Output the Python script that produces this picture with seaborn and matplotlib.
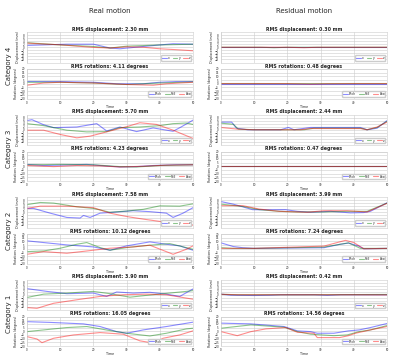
"""
plot.py
Real vs residual motion traces (displacement + rotations) for four categories.
"""

import pandas as pd
import matplotlib.pyplot as plt
import seaborn as sns

# column / row labels
COLUMNS = ["Real motion", "Residual motion"]
CATEGORIES = ["Category 4", "Category 3", "Category 2", "Category 1"]
DISP_LABELS = ["x", "y", "z"]
ROT_LABELS = ["Pitch", "Roll", "Yaw"]
TIME_TICKS = [0, 10, 20, 30, 40, 50]
DISP_TICKS = [-8, -6, -4, -2, 0, 2, 4, 6, 8]
ROT_TICKS = [-20, -15, -10, -5, 0, 5, 10, 15, 20]

# RMS values shown in the titles (rows = categories, cols = real / residual)
RMS_DISP = [[2.30, 0.30], [5.70, 2.44], [7.58, 3.99], [3.90, 0.42]]
RMS_ROT = [[4.11, 0.48], [4.23, 0.47], [10.12, 7.24], [16.05, 14.56]]

# ---- Category 4 ----
real4_disp = {
    "x": ([0, 12, 20, 25, 28, 35, 44, 50], [1.2, 2.0, 2.0, -0.5, -1.0, 0.5, 2.3, 2.0]),
    "y": ([0, 10, 20, 25, 30, 40, 50], [3.0, 1.5, 0.5, -0.5, 0.7, 1.5, 2.0]),
    "z": ([0, 10, 20, 25, 30, 35, 40, 45, 50], [2.7, 1.6, -0.1, -0.5, 0.3, 0.0, -1.0, -1.6, -2.3]),
}
real4_rot = {
    "Pitch": ([0, 10, 20, 27, 35, 40, 45, 50], [3, 3, 2, 0, 0, 2, 3, 3]),
    "Roll": ([0, 10, 20, 30, 40, 50], [2, 2, 1, -1, 1, 2.5]),
    "Yaw": ([0, 5, 10, 20, 30, 38, 42, 50], [-2, 1, 2, 1, -1, -2, 0, 2]),
}
resid4_disp = {
    "x": ([0, 10, 20, 30, 40, 50], [0, 0, 0, 0, 0, 0]),
    "y": ([0, 12, 16, 20, 30, 50], [0, 0, -0.3, 0, 0, 0]),
    "z": ([0, 20, 25, 29, 35, 50], [0, 0, -0.3, 0, 0, 0]),
}
resid4_rot = {
    "Pitch": ([0, 10, 20, 30, 40, 50], [0, 0, 0, 0, 0, 0]),
    "Roll": ([0, 10, 20, 30, 40, 50], [0.3, 0.3, 0.2, 0.2, 0.3, 0.3]),
    "Yaw": ([0, 20, 27, 32, 40, 50], [0.2, 0.2, -0.5, 0, 0.2, 0.2]),
}

# ---- Category 3 ----
real3_disp = {
    "x": ([0, 1.5, 5, 8, 15, 21, 24, 28, 33, 38, 44, 46.4, 50],
          [6.0, 6.6, 3.3, 1.4, 1.8, 4.0, -0.8, 1.8, -1.2, 1.2, -1.0, 1.8, 6.3]),
    "y": ([0, 5, 12, 18, 24, 28, 34, 40, 44, 48, 50],
          [4.0, 2.7, -0.3, -1.4, -1.2, 1.4, 1.8, 2.7, 4.0, 4.4, 3.5]),
    "z": ([0, 5, 10, 15, 19, 24, 30, 34, 39, 44, 50],
          [-0.3, -0.3, -3.1, -5.3, -4.2, -1.4, 2.0, 4.6, 3.5, -0.3, -5.7]),
}
real3_rot = {
    "Pitch": ([0, 5, 10, 18, 22, 28, 33, 38, 45, 50], [2.5, 1, 1.5, 2.5, 1, -1, -0.5, 1, 2, 2]),
    "Roll": ([0, 10, 20, 28, 33, 40, 50], [2, 2.5, 2, -0.5, -1, 1, 2]),
    "Yaw": ([0, 8, 15, 22, 28, 35, 42, 50], [1, -0.5, 1, 0.5, -1, 0, 1.5, 2]),
}
resid3_disp = {
    "x": ([0, 3.2, 4.7, 8, 18, 20.3, 22, 27, 42, 44, 47, 50],
          [5.0, 5.0, 1.0, 0, 0, 1.5, 0, 1.5, 1.5, 0, 1.0, 6.0]),
    "y": ([0, 3.7, 5.2, 10, 25, 28, 42, 44, 47, 50],
          [4.3, 3.6, 0.4, 0, 0, 1.0, 1.0, 0, 1.5, 5.5]),
    "z": ([0, 5, 10, 24, 27, 42, 44, 47, 50],
          [1.5, 0.4, 0, 0, 0.8, 0.8, 0, 1.8, 5.0]),
}
resid3_rot = {
    "Pitch": ([0, 10, 20, 30, 40, 50], [0, 0, 0, 0, 0, 0]),
    "Roll": ([0, 10, 20, 30, 40, 50], [0, 0, 0, 0, 0, 0]),
    "Yaw": ([0, 10, 20, 30, 40, 50], [0, 0, 0, 0, 0, 0]),
}

# ---- Category 2 ----
real2_disp = {
    "x": ([0, 2, 7, 12, 16, 17, 19, 22, 26, 32, 37, 42, 44, 47, 50],
          [2.5, 2.5, -0.6, -3.4, -3.8, -2.1, -3.4, -0.6, 0, 1.0, 0.4, -0.6, -3.4, -0.6, 3.0]),
    "y": ([0, 4, 8, 15, 20, 25, 30, 35, 40, 46, 50],
          [5.0, 6.4, 6.0, 3.6, 2.5, 0, 0.8, 1.9, 4.2, 4.0, 5.5]),
    "z": ([0, 4, 12, 20, 25, 30, 35, 40, 45, 50],
          [2.5, 4.0, 4.0, 3.0, -0.6, -2.8, -4.5, -6.0, -7.4, -8.5]),
}
real2_rot = {
    "Pitch": ([0, 5, 12, 20, 25, 30, 37, 42, 46, 50], [10.7, 8.4, 5.2, 2.5, -2, 3.9, 9.3, 6.1, 3.9, -2]),
    "Roll": ([0, 5, 10, 15, 18, 22, 25, 30, 37, 43, 50], [-3.9, -3, 0.7, 6.1, 8.4, 1.6, -2, 1.6, 4.8, 7, -0.7]),
    "Yaw": ([0, 5, 12, 20, 25, 32, 37, 44, 48, 50], [-7.5, -3.9, -6.1, -2, 0.7, 2.5, 4.8, -7.5, -0.7, 3.9]),
}
resid2_disp = {
    "x": ([0, 3.7, 9.5, 13.5, 19.4, 23, 27, 33, 39, 43, 45, 50],
          [7.0, 5.3, 1.7, 1.6, 1.7, 0.6, 0, 0.6, -0.4, -0.2, 0.6, 6.2]),
    "y": ([0, 6.6, 11.5, 17.5, 23, 31, 38, 44, 50],
          [5.3, 3.8, 1.7, 0.6, 0.2, 0.2, 0.6, 0.6, 6.0]),
    "z": ([0, 6.6, 11.5, 17.5, 26, 31, 38, 44, 50],
          [4.3, 4.3, 2.1, 0.6, 0, 1.0, 1.0, 0.2, 5.8]),
}
resid2_rot = {
    "Pitch": ([0, 3.7, 6.6, 10, 31, 35.7, 38.4, 41.5, 43, 50], [8, 3, 1.4, 0.5, 1.4, 5.9, 7.7, 3.6, 0, 0.5]),
    "Roll": ([0, 3.7, 10, 31, 38.4, 42, 50], [1.4, 0.5, 0.5, 2.3, 8, 0.5, 0.5]),
    "Yaw": ([0, 10, 31, 37.5, 40, 43, 50], [0.5, 0.5, 3.6, 11.4, 8.4, 0, 0.5]),
}

# ---- Category 1 ----
real1_disp = {
    "x": ([0, 6, 12, 20, 24, 27, 32, 37, 42, 46, 50],
          [4.0, 2.2, 0.7, 1.1, -1.1, 1.8, 1.1, 1.6, 0.4, -1.1, 3.8]),
    "y": ([0, 5, 12, 20, 25, 31, 36, 42, 48, 50],
          [-1.8, 0.4, 1.1, 2.2, 0.7, -1.6, -0.4, 0.9, 2.2, 2.7]),
    "z": ([0, 3, 8, 15, 22, 29, 36, 42, 48, 50],
          [-8.4, -8.9, -5.6, -3.3, -1.1, 0, 0.4, 0, -2.2, -2.9]),
}
real1_rot = {
    "Pitch": ([0, 7, 17, 22, 27, 30, 35, 42, 50], [13, 12, 10, 6.4, -0.5, -2.7, 1.8, 6.4, 12.3]),
    "Roll": ([0, 5, 12, 18, 25, 30, 37, 42, 48, 50], [-0.5, 1.8, 5, 6.4, 0.9, -2.7, -6.4, -2.7, 3.2, 4.1]),
    "Yaw": ([0, 3, 4.5, 8, 14, 22, 29, 34, 38, 41, 46, 50],
            [-7.3, -10.5, -15.5, -9.5, -5, -1.8, -4, -13, -16, -9.5, -5, 0.5]),
}
resid1_disp = {
    "x": ([0, 3, 10, 15, 18, 28, 32, 36, 50], [0.4, -0.3, -0.5, -0.3, 0, 0, -0.4, 0, 0]),
    "y": ([0, 5, 25, 50], [0.3, 0, 0, 0.2]),
    "z": ([0, 5, 40, 50], [0.3, 0, 0, -0.1]),
}
resid1_rot = {
    "Pitch": ([0, 9, 19, 23, 27, 29, 34, 38.4, 41.6, 45, 50], [11, 10, 6.4, 0.5, -0.5, -2.7, -2.7, 0.5, 1.8, 5, 10.5]),
    "Roll": ([0, 9, 19, 23, 27, 34, 38, 41.6, 45, 50], [4.1, 8.6, 5.5, -0.5, -4, -6, -5, -0.5, 1.8, 7.7]),
    "Yaw": ([0, 4.9, 9, 13.5, 19.5, 23, 28, 29, 35.7, 38.4, 40.5, 45, 50],
            [-0.5, -6, -0.5, 3.2, 5, -1.4, -2.7, -8.6, -8.6, -6, -2.7, 1.8, 6.4]),
}

DISP_PANELS = [[real4_disp, resid4_disp], [real3_disp, resid3_disp],
               [real2_disp, resid2_disp], [real1_disp, resid1_disp]]
ROT_PANELS = [[real4_rot, resid4_rot], [real3_rot, resid3_rot],
              [real2_rot, resid2_rot], [real1_rot, resid1_rot]]

PALETTE = ["blue", "green", "red"]


def to_long(series):
    rows = []
    for name, (ts, vs) in series.items():
        for t, v in zip(ts, vs):
            rows.append({"Time": t, "Value": v, "Axis": name})
    return pd.DataFrame(rows)


def draw_panel(ax, series, limit, yticks, ylabel, title, show_time):
    df = to_long(series)
    sns.lineplot(data=df, x="Time", y="Value", hue="Axis", palette=PALETTE,
                 estimator=None, sort=True, alpha=0.45, linewidth=0.8, ax=ax)
    ax.set_xlim(0, 50)
    ax.set_ylim(-limit, limit)
    ax.set_xticks(TIME_TICKS)
    ax.set_yticks(yticks)
    ax.tick_params(labelsize=2, length=1, width=0.3, pad=0.5)
    ax.grid(True, linewidth=0.4)
    for sp in ax.spines.values():
        sp.set_linewidth(0.4)
    ax.set_ylabel(ylabel, fontsize=2.3, labelpad=0.8)
    ax.set_title(title, fontsize=3.4, fontweight="bold", pad=1.0)
    if show_time:
        ax.set_xlabel("Time", fontsize=2.4, labelpad=0)
    else:
        ax.set_xlabel("")
        ax.tick_params(axis="x", labelbottom=False)
    ax.legend(loc="lower right", ncol=3, fontsize=2.2, handlelength=1.6,
              handletextpad=0.4, columnspacing=0.8, borderpad=0.3,
              frameon=True, framealpha=1.0, title=None)


def main():
    sns.set_theme(style="whitegrid")
    fig = plt.figure(figsize=(4.0, 3.58), dpi=100)
    W, H = 400.0, 358.0
    col_x = [27, 221]
    ax_w = 166
    disp_h = 30.5
    rot_h = 29.5

    for c, col_title in enumerate(COLUMNS):
        fig.text((col_x[c] + ax_w / 2) / W, 1 - 11 / H, col_title,
                 ha="center", va="center", fontsize=5)

    for r, cat in enumerate(CATEGORIES):
        disp_top = 32 + 82.5 * r
        rot_top = disp_top + 37
        fig.text(9 / W, 1 - (disp_top + 34) / H, cat, rotation=90,
                 ha="center", va="center", fontsize=5)
        for c in range(2):
            ax_d = fig.add_axes([col_x[c] / W, 1 - (disp_top + disp_h) / H, ax_w / W, disp_h / H])
            draw_panel(ax_d, DISP_PANELS[r][c], 10, DISP_TICKS, "Displacement (mm)",
                       f"RMS displacement: {RMS_DISP[r][c]:.2f} mm", False)
            ax_r = fig.add_axes([col_x[c] / W, 1 - (rot_top + rot_h) / H, ax_w / W, rot_h / H])
            draw_panel(ax_r, ROT_PANELS[r][c], 20, ROT_TICKS, "Rotations (degrees)",
                       f"RMS rotations: {RMS_ROT[r][c]:.2f} degrees", True)

    fig.savefig("out.png", dpi=100)


if __name__ == "__main__":
    main()
